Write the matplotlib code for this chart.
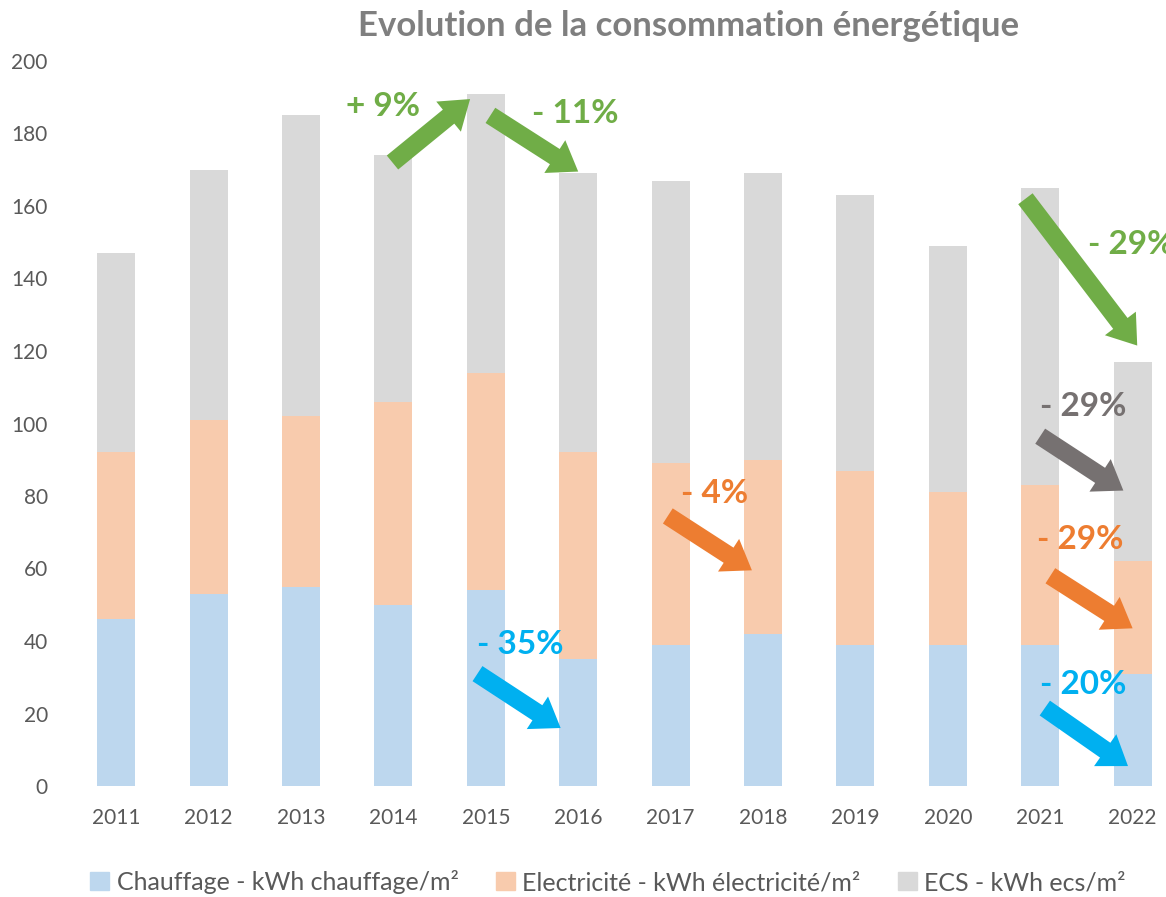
import matplotlib
matplotlib.use("Agg")
import matplotlib.pyplot as plt
from matplotlib.patches import FancyArrowPatch, ArrowStyle
from matplotlib.patches import Patch
import numpy as np

plt.rcParams['font.family'] = ['Lato', 'DejaVu Sans']

years = ['2011', '2012', '2013', '2014', '2015', '2016', '2017', '2018', '2019', '2020', '2021', '2022']
chauffage = [46, 53, 55, 50, 54, 35, 39, 42, 39, 39, 39, 31]
electricite = [46, 48, 47, 56, 60, 57, 50, 48, 48, 42, 44, 31]
ecs = [55, 69, 83, 68, 77, 77, 78, 79, 76, 68, 82, 55]

series_labels = ['Chauffage - kWh chauffage/m²', 'Electricité - kWh électricité/m²', 'ECS - kWh ecs/m²']
series_colors = ['#bdd7ee', '#f8cbad', '#d9d9d9']

# annotations: text, color, arrow start (x index, y), arrow end, text position
annotations = [
    ('+ 9%', '#70ad47', (2.99, 172), (3.83, 189.5), (2.89, 187.5), 'center'),
    ('- 11%', '#70ad47', (4.05, 185), (5.0, 169.5), (4.97, 185.5), 'center'),
    ('- 29%', '#70ad47', (9.84, 162), (11.05, 121.5), (10.52, 149.5), 'left'),
    ('- 29%', '#767171', (10.0, 96.5), (10.9, 81.5), (10.47, 104.8), 'center'),
    ('- 29%', '#ed7d31', (10.11, 58), (11.0, 43.5), (10.43, 67.9), 'center'),
    ('- 20%', '#00b0f0', (10.05, 21.5), (10.95, 5.5), (10.47, 27.9), 'center'),
    ('- 35%', '#00b0f0', (3.91, 31), (4.81, 16), (4.37, 38.9), 'center'),
    ('- 4%', '#ed7d31', (5.97, 74.5), (6.88, 59.5), (6.48, 80.6), 'center'),
]

W, H = 1166, 897
fig = plt.figure(figsize=(W / 100, H / 100), dpi=100)
left_px, bottom_px, top_px = 70, 786, 61
step = 92.4
ax = fig.add_axes([left_px / W, (H - bottom_px) / H, 12 * step / W, (bottom_px - top_px) / H])

x = np.arange(len(years))
bw = 0.41
ax.bar(x, chauffage, bw, color=series_colors[0], label=series_labels[0])
bottom2 = np.array(chauffage)
ax.bar(x, electricite, bw, bottom=bottom2, color=series_colors[1], label=series_labels[1])
bottom3 = bottom2 + np.array(electricite)
ax.bar(x, ecs, bw, bottom=bottom3, color=series_colors[2], label=series_labels[2])

ax.set_xlim(-0.5, len(years) - 0.5)
ax.set_ylim(0, 200)
ax.set_yticks(np.arange(0, 201, 20))
ax.set_xticks(x)
ax.set_xticklabels(years)
for s in ax.spines.values():
    s.set_visible(False)
ax.tick_params(axis='both', length=0, labelsize=15, colors='#595959')
ax.tick_params(axis='x', pad=16)
ax.tick_params(axis='y', pad=16)

style = ArrowStyle.Simple(head_length=20, head_width=28, tail_width=13)
for txt, col, st, en, tp, ha in annotations:
    arr = FancyArrowPatch(st, en, arrowstyle=style, mutation_scale=1, color=col,
                          shrinkA=0, shrinkB=0, linewidth=0, zorder=5, clip_on=False)
    ax.add_patch(arr)
    ax.text(tp[0], tp[1], txt, color=col, fontsize=24, fontweight='bold', ha=ha, va='center',
            zorder=6, clip_on=False)

fig.text(689 / W, 1 - 26 / H, 'Evolution de la consommation énergétique', ha='center', va='center',
         fontsize=25, fontweight='bold', color='#7f7f7f')

handles = [Patch(color=c) for c in series_colors]
leg = fig.legend(handles, series_labels, loc='center', bbox_to_anchor=(608 / W, 1 - 882 / H), ncol=3,
                 frameon=False, fontsize=18, handlelength=0.75, handleheight=0.75, handletextpad=0.3,
                 columnspacing=1.5)
for t in leg.get_texts():
    t.set_color('#595959')

fig.savefig('out.png', dpi=100)
